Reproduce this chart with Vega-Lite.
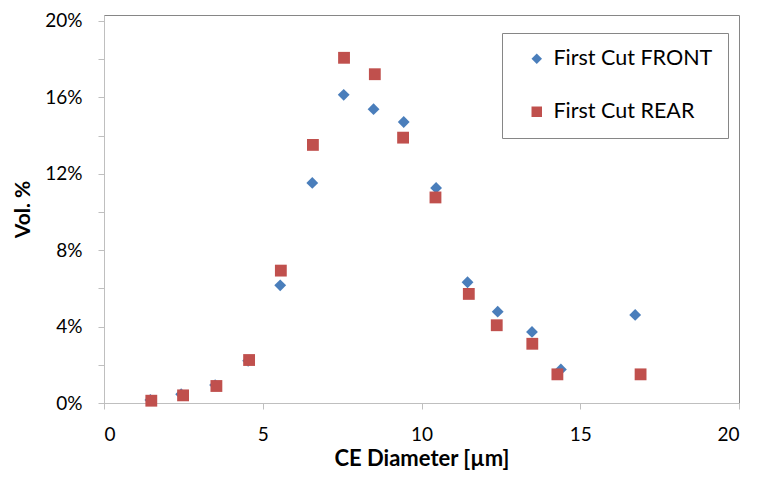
{
  "$schema": "https://vega.github.io/schema/vega-lite/v6.json",
  "width": 635,
  "height": 388,
  "autosize": "none",
  "padding": {"left": 104, "top": 15, "right": 24, "bottom": 78},
  "background": "white",
  "config": {
    "view": {"stroke": "#868686", "strokeWidth": 1},
    "font": "Lato"
  },
  "data": {
    "values": [
      {"series": "First Cut FRONT", "d": 1.46, "v": 0.16},
      {"series": "First Cut FRONT", "d": 2.43, "v": 0.46},
      {"series": "First Cut FRONT", "d": 3.50, "v": 0.94},
      {"series": "First Cut FRONT", "d": 4.54, "v": 2.21},
      {"series": "First Cut FRONT", "d": 5.55, "v": 6.16},
      {"series": "First Cut FRONT", "d": 6.56, "v": 11.52},
      {"series": "First Cut FRONT", "d": 7.55, "v": 16.13},
      {"series": "First Cut FRONT", "d": 8.49, "v": 15.38},
      {"series": "First Cut FRONT", "d": 9.44, "v": 14.71},
      {"series": "First Cut FRONT", "d": 10.46, "v": 11.26},
      {"series": "First Cut FRONT", "d": 11.45, "v": 6.32},
      {"series": "First Cut FRONT", "d": 12.40, "v": 4.78},
      {"series": "First Cut FRONT", "d": 13.48, "v": 3.72},
      {"series": "First Cut FRONT", "d": 14.39, "v": 1.76},
      {"series": "First Cut FRONT", "d": 16.73, "v": 4.61},
      {"series": "First Cut REAR", "d": 1.49, "v": 0.12},
      {"series": "First Cut REAR", "d": 2.49, "v": 0.40},
      {"series": "First Cut REAR", "d": 3.54, "v": 0.89},
      {"series": "First Cut REAR", "d": 4.57, "v": 2.25},
      {"series": "First Cut REAR", "d": 5.57, "v": 6.93},
      {"series": "First Cut REAR", "d": 6.58, "v": 13.51},
      {"series": "First Cut REAR", "d": 7.56, "v": 18.07},
      {"series": "First Cut REAR", "d": 8.53, "v": 17.21},
      {"series": "First Cut REAR", "d": 9.42, "v": 13.89},
      {"series": "First Cut REAR", "d": 10.44, "v": 10.76},
      {"series": "First Cut REAR", "d": 11.49, "v": 5.71},
      {"series": "First Cut REAR", "d": 12.37, "v": 4.07},
      {"series": "First Cut REAR", "d": 13.49, "v": 3.10},
      {"series": "First Cut REAR", "d": 14.28, "v": 1.50},
      {"series": "First Cut REAR", "d": 16.90, "v": 1.50}
    ]
  },
  "mark": {"type": "point", "filled": true, "size": 140, "opacity": 1},
  "encoding": {
    "x": {
      "field": "d",
      "type": "quantitative",
      "scale": {"domain": [0, 20], "nice": false},
      "axis": {
        "values": [0, 5, 10, 15, 20],
        "grid": false,
        "domainColor": "#BFBFBF",
        "tickColor": "#BFBFBF",
        "tickSize": 6,
        "labelFontSize": 19,
        "labelColor": "black",
        "labelPadding": 16,
        "labelFont": "Lato",
        "title": "CE Diameter [µm]",
        "titleFont": "Lato",
        "titleFontSize": 22,
        "titleFontWeight": "bold",
        "titleColor": "black",
        "titlePadding": 4
      }
    },
    "y": {
      "field": "v",
      "type": "quantitative",
      "scale": {"domain": [0, 20.31], "nice": false},
      "axis": {
        "values": [0, 2, 4, 6, 8, 10, 12, 14, 16, 18, 20],
        "labelExpr": "datum.value % 4 == 0 ? datum.value + '%' : ''",
        "grid": false,
        "domainColor": "#BFBFBF",
        "tickColor": "#BFBFBF",
        "tickSize": 6,
        "labelFontSize": 19,
        "labelColor": "black",
        "labelPadding": 16,
        "labelFont": "Lato",
        "title": "Vol. %",
        "titleFont": "Lato",
        "titleFontSize": 21,
        "titleFontWeight": "bold",
        "titleColor": "black",
        "titlePadding": 11
      }
    },
    "color": {
      "field": "series",
      "type": "nominal",
      "scale": {"domain": ["First Cut FRONT", "First Cut REAR"], "range": ["#4A7EBB", "#C0504D"]},
      "legend": {
        "orient": "none",
        "legendX": 398,
        "legendY": 18,
        "title": null,
        "strokeColor": "#868686",
        "fillColor": "white",
        "padding": 15,
        "labelFontSize": 21.5,
        "labelFont": "Lato",
        "labelColor": "black",
        "labelExpr": "datum.label + '\u00a0\u00a0\u00a0\u00a0'",
        "symbolSize": 110,
        "rowPadding": 30,
        "labelOffset": 6,
        "symbolOffset": 9,
        "symbolStrokeWidth": 0
      }
    },
    "shape": {
      "field": "series",
      "type": "nominal",
      "scale": {"domain": ["First Cut FRONT", "First Cut REAR"], "range": ["diamond", "square"]}
    }
  }
}
